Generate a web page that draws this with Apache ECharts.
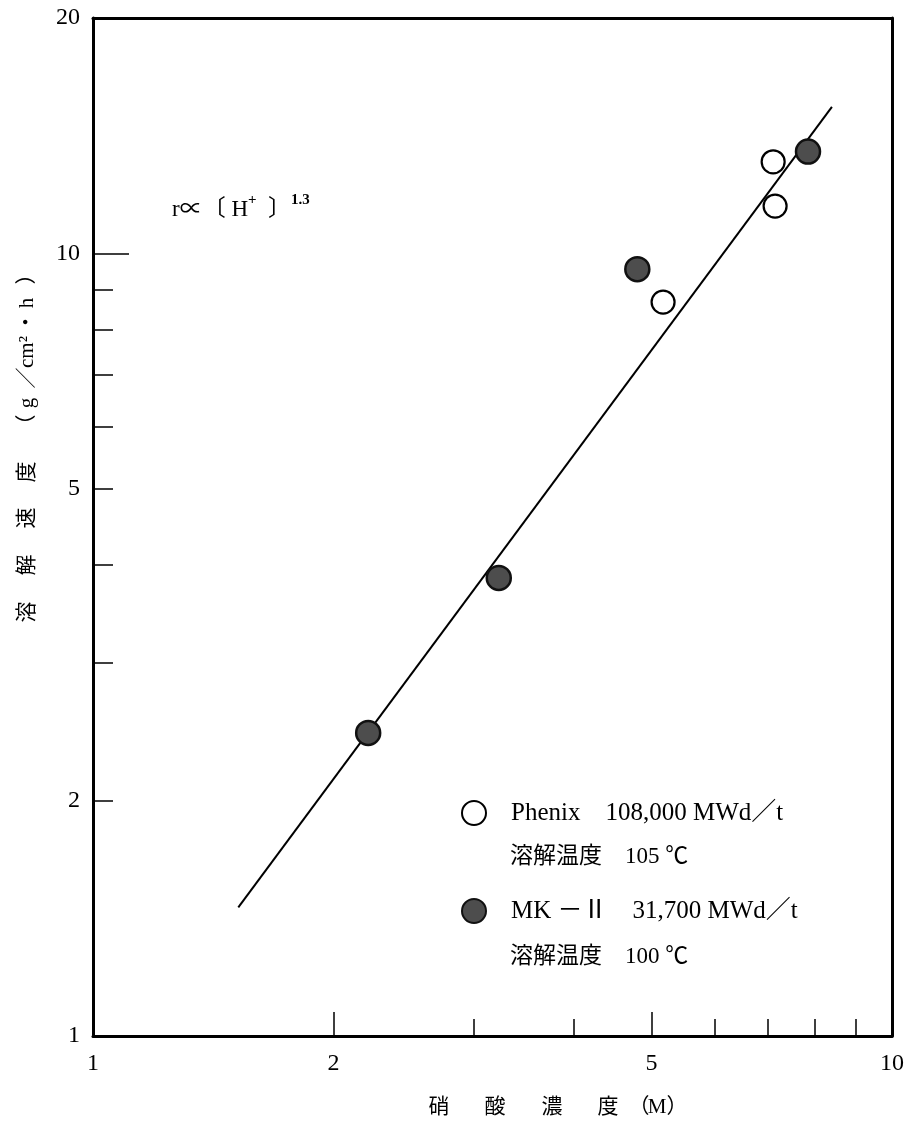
<!DOCTYPE html>
<html>
<head>
<meta charset="utf-8">
<script src="https://cdn.jsdelivr.net/npm/echarts@6/dist/echarts.min.js"></script>
<style>html,body{margin:0;padding:0;background:#fff}#c{width:907px;height:1131px}</style>
</head>
<body>
<div id="c"></div>
<script>
// ---- data ----
const phenixName = 'Phenix　108,000 MWd／t';
const phenixSub = '溶解温度　105 ℃';
const phenixX = [5.17, 7.10, 7.14];
const phenixY = [8.67, 13.1, 11.5];

const mk2Name = 'MK －Ⅱ　31,700 MWd／t';
const mk2Sub = '溶解温度　100 ℃';
const mk2X = [2.21, 3.22, 4.80, 7.85];
const mk2Y = [2.44, 3.85, 9.55, 13.5];

const fitX = [1.52, 8.41];
const fitY = [1.46, 15.4];

const xLabels = [1, 2, 5, 10];
const xMajorTicks = [2, 5];
const xMinorTicks = [3, 4, 6, 7, 8, 9];
const yLabels = [1, 2, 5, 10, 20];
const yMajorTicks = [10];
const yMinorTicks = [2, 3, 4, 5, 6, 7, 8, 9];

const xNameParts = ['硝', '酸', '濃', '度', '（', 'M', '）'];
const yNameParts = ['溶', '解', '速', '度', '（', 'g', '／', 'cm²', '・', 'h', '）'];

// ---- chart ----
const SERIF = '"Liberation Serif", "Noto Sans CJK JP", serif';
const chart = echarts.init(document.getElementById('c'), null, {renderer: 'canvas'});

function zip(a, b) { return a.map((v, i) => [v, b[i]]); }

const baseAxis = {
  type: 'log', logBase: 10, splitLine: {show: false}, minorTick: {show: false}
};

const option = {
  backgroundColor: '#fff',
  animation: false,
  grid: {left: 93, right: 15, top: 18, bottom: 95, show: false},
  xAxis: [
    Object.assign({}, baseAxis, {
      min: 1, max: 10, position: 'bottom',
      axisLine: {show: true, lineStyle: {color: '#000', width: 3}},
      axisTick: {show: true, inside: true, length: 24, customValues: xMajorTicks, lineStyle: {color: '#000', width: 1.5}},
      axisLabel: {show: true, customValues: xLabels, margin: 16, color: '#000', fontFamily: SERIF, fontSize: 24}
    }),
    Object.assign({}, baseAxis, {
      min: 1, max: 10, position: 'bottom',
      axisLine: {show: false},
      axisTick: {show: true, inside: true, length: 17, customValues: xMinorTicks, lineStyle: {color: '#000', width: 1.5}},
      axisLabel: {show: false}
    }),
    Object.assign({}, baseAxis, {
      min: 1, max: 10, position: 'top',
      axisLine: {show: true, lineStyle: {color: '#000', width: 3}},
      axisTick: {show: false}, axisLabel: {show: false}
    })
  ],
  yAxis: [
    Object.assign({}, baseAxis, {
      min: 1, max: 20, position: 'left',
      axisLine: {show: true, lineStyle: {color: '#000', width: 3}},
      axisTick: {show: true, inside: true, length: 36, customValues: yMajorTicks, lineStyle: {color: '#000', width: 1.5}},
      axisLabel: {show: true, customValues: yLabels, margin: 13, color: '#000', fontFamily: SERIF, fontSize: 24}
    }),
    Object.assign({}, baseAxis, {
      min: 1, max: 20, position: 'left',
      axisLine: {show: false},
      axisTick: {show: true, inside: true, length: 20, customValues: yMinorTicks, lineStyle: {color: '#000', width: 1.5}},
      axisLabel: {show: false}
    }),
    Object.assign({}, baseAxis, {
      min: 1, max: 20, position: 'right',
      axisLine: {show: true, lineStyle: {color: '#000', width: 3}},
      axisTick: {show: false}, axisLabel: {show: false}
    })
  ],
  legend: {
    orient: 'vertical', left: 456, top: 795,
    itemWidth: 64, itemHeight: 24, itemGap: 72,
    data: [phenixName, mk2Name],
    textStyle: {color: '#000', fontFamily: SERIF, fontSize: 25},
    selectedMode: false
  },
  series: [
    {
      name: 'fit', type: 'line', xAxisIndex: 0, yAxisIndex: 0,
      data: zip(fitX, fitY), showSymbol: false, symbol: 'none',
      lineStyle: {color: '#000', width: 2}, z: 2
    },
    {
      name: phenixName, type: 'scatter', xAxisIndex: 0, yAxisIndex: 0,
      data: zip(phenixX, phenixY), symbol: 'circle', symbolSize: 23,
      itemStyle: {color: '#fff', borderColor: '#000', borderWidth: 2.2, opacity: 1}, z: 3
    },
    {
      name: mk2Name, type: 'scatter', xAxisIndex: 0, yAxisIndex: 0,
      data: zip(mk2X, mk2Y), symbol: 'circle', symbolSize: 24,
      itemStyle: {color: '#4d4d4d', borderColor: '#111', borderWidth: 2.5, opacity: 1}, z: 3
    }
  ],
  graphic: []
};

// sub lines of legend
option.graphic.push({type: 'text', left: 510, top: 845, style: {text: phenixSub, fill: '#000', font: '23px ' + SERIF}});
option.graphic.push({type: 'text', left: 510, top: 945, style: {text: mk2Sub, fill: '#000', font: '23px ' + SERIF}});

// formula annotation
option.graphic.push({
  type: 'text', left: 172, top: 193,
  style: {
    text: '{a|r∝〔 H}{s|+}{a|  〕}{s|1.3}',
    rich: {
      a: {fontFamily: SERIF, fontSize: 23, color: '#000', lineHeight: 28, verticalAlign: 'bottom'},
      s: {fontFamily: SERIF, fontSize: 15, fontWeight: 'bold', color: '#000', lineHeight: 28, verticalAlign: 'top'}
    }
  }
});

// x-axis name (characters spaced as in the reference)
const xNamePos = [439, 495, 552, 608, 639, 657, 677];
xNameParts.forEach((t, i) => {
  option.graphic.push({type: 'text', x: xNamePos[i], y: 1107,
    style: {text: t, fill: '#000', font: '21px ' + SERIF, align: 'center', verticalAlign: 'middle'}});
});
// y-axis name (rotated, reads bottom to top)
const yNamePos = [612, 565, 518, 472, 425, 403, 378, 352, 322, 303, 274];
yNameParts.forEach((t, i) => {
  option.graphic.push({type: 'text', x: 27, y: yNamePos[i], rotation: Math.PI / 2,
    style: {text: t, fill: '#000', font: '21px ' + SERIF, align: 'center', verticalAlign: 'middle'}});
});

chart.setOption(option);
</script>
</body>
</html>
